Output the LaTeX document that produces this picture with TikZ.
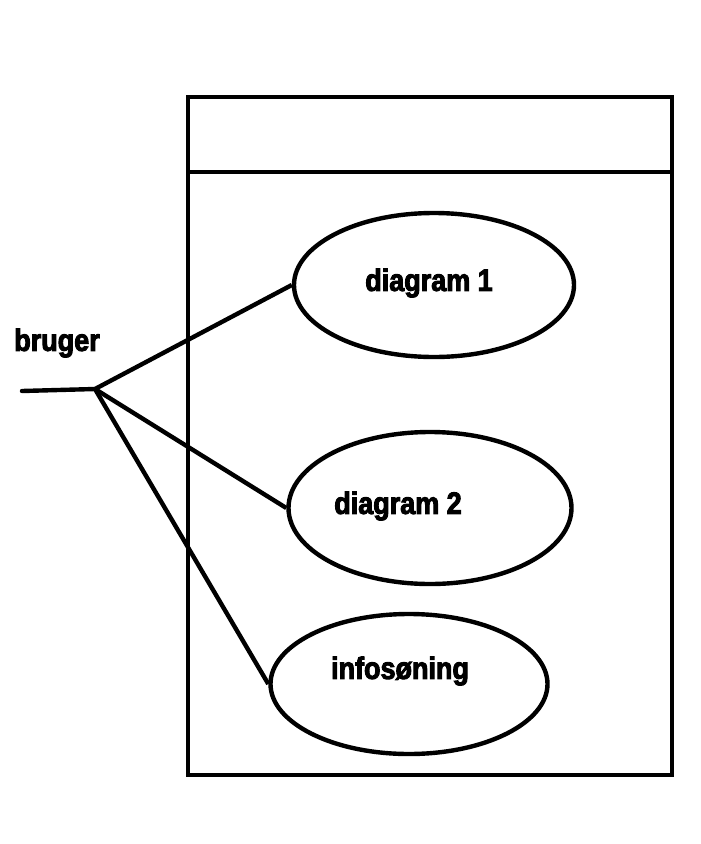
\documentclass[tikz,border=0pt]{standalone}
\usepackage{fontspec}
\newfontfamily\lblfont{Liberation Sans}[FakeStretch=0.87,BoldFeatures={FakeBold=3}]
\usetikzlibrary{shapes.geometric}
\begin{document}
\begin{tikzpicture}[x=1pt,y=-1pt,
  thick line/.style={line width=4.4pt,black},
  usecase/.style={draw,thick line,ellipse,inner sep=0pt},
  lbl/.style={font=\lblfont\fontsize{31}{33}\selectfont\bfseries,inner sep=0pt}]
\useasboundingbox (0,0) rectangle (701,844);
% system box
\node[draw,thick line,minimum width=484pt,minimum height=678pt,inner sep=0pt,anchor=north west] (box) at (186,95) {};
\coordinate (dl) at (186,172);
\coordinate (dr) at (672,172);
\draw[thick line] (dl) -- (dr);
% use cases
\node[usecase,minimum width=280pt,minimum height=144pt] (uc1) at (434,285) {};
\node[usecase,minimum width=283pt,minimum height=152pt] (uc2) at (430,508) {};
\node[usecase,minimum width=277pt,minimum height=140pt] (uc3) at (409,684) {};
\node[lbl] (t1) at (429,283) {diagram 1};
\node[lbl] (t2) at (398,506) {diagram 2};
\node[lbl] (t3) at (400,671) {infosøning};
% actor
\node[lbl] (actor) at (57,343) {bruger};
\coordinate (a0) at (22,391);
\coordinate (a1) at (95,389);
\draw[thick line,line cap=round] (a0) -- (a1);
\draw[thick line] (a1) -- (uc1.west);
\draw[thick line] (a1) -- (uc2.west);
\draw[thick line] (a1) -- (uc3.west);
\end{tikzpicture}
\end{document}
